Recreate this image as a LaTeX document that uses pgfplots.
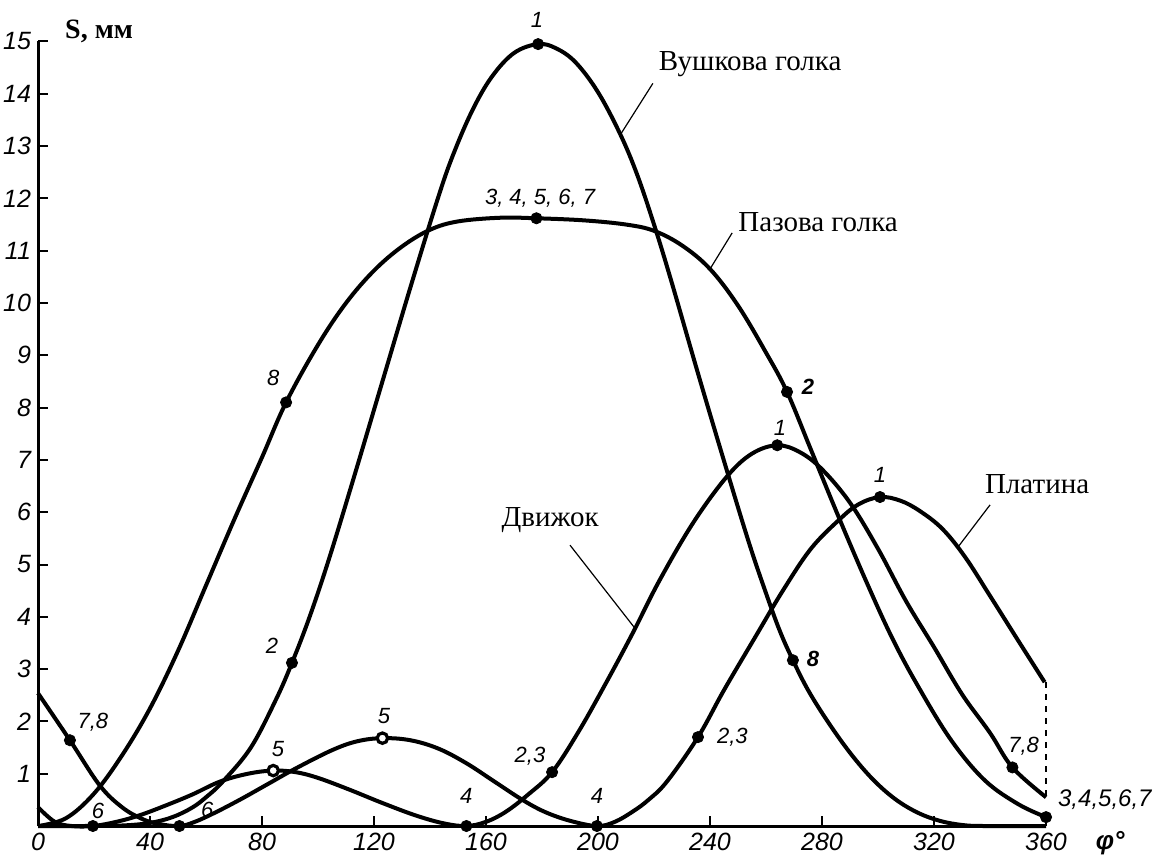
\documentclass[border=0pt]{standalone}
\usepackage{fontspec}
\setmainfont{Liberation Serif}
\newfontfamily\tf{Liberation Sans}
\usepackage{pgfplots}
\pgfplotsset{compat=1.18}
\newcommand\lf{\tf\itshape\fontsize{11}{11}\selectfont}
\newcommand\af{\fontsize{14.5}{15}\selectfont}
\begin{document}
\begin{tikzpicture}
\begin{axis}[
  scale only axis, width=504pt, height=392.25pt,
  xmin=0, xmax=360, ymin=0, ymax=15,
  axis lines=left, axis line style={-, line width=1.5pt},
  xtick={0,40,...,360}, ytick={1,...,15},
  tick align=inside, major tick length=5pt,
  tick style={line width=1pt, black},
  ticklabel style={font=\tf\itshape\fontsize{12.5}{13}\selectfont},
  /pgf/number format/assume math mode=true,
  clip=false,
]
% Вушкова голка
\addplot[black, line width=2pt, smooth, tension=0.6] coordinates {
(0,0) (15,0) (30,0.01) (40,0.06) (48,0.17) (55,0.35) (60,0.55) (66,0.85) (76,1.5) (85,2.42) (90.7,3.12) (97,4.0) (104,5.12) (113,6.7) (123,8.5) (133,10.3) (142.5,11.95) (148,12.8) (155,13.67) (162,14.32) (170,14.78) (178.6,14.95) (185,14.87) (192,14.6) (200,14.03) (208,13.22) (214,12.45) (220,11.5) (226,10.45) (236,8.6) (246,6.8) (254,5.4) (260,4.45) (265,3.72) (269.6,3.17) (275,2.6) (282,2.0) (290,1.4) (298,0.9) (306,0.52) (314,0.26) (322,0.1) (330,0.02) (338,0) (360,0)};
% Пазова голка
\addplot[black, line width=2pt, smooth, tension=0.6] coordinates {
(0,0) (10,0.15) (20,0.62) (30,1.35) (40,2.25) (50,3.35) (60,4.6) (70,5.85) (80,7.05) (88.6,8.1) (100,9.2) (110,10.0) (120,10.62) (130,11.08) (140,11.4) (150,11.56) (165,11.63) (178,11.62) (195,11.58) (210,11.5) (220,11.38) (230,11.1) (240,10.65) (250,9.95) (260,9.05) (267.5,8.3) (276,7.2) (286,5.9) (296,4.65) (305,3.6) (314,2.7) (326,1.65) (338,0.88) (350,0.42) (360,0.17)};
% Движок
\addplot[black, line width=2pt, smooth, tension=0.6] coordinates {
(0,0.36) (6,0.08) (12,0.0) (19.6,0.0) (28,0.08) (36,0.2) (45,0.38) (55,0.6) (65,0.85) (75,1.0) (84,1.06) (92,1.03) (100,0.92) (111,0.7) (123,0.44) (135,0.2) (145,0.05) (153,0) (160,0.08) (167,0.27) (175,0.6) (183.6,1.03) (193,1.8) (203,2.75) (212.5,3.7) (222,4.7) (234,5.8) (246,6.68) (255,7.12) (264,7.28) (272,7.15) (280,6.82) (290,6.18) (300,5.3) (310,4.3) (320,3.42) (330,2.52) (340,1.78) (348,1.12) (360,0.55)};
% Платина
\addplot[black, line width=2pt, smooth, tension=0.6] coordinates {
(0,2.54) (11.4,1.64) (22,0.78) (30,0.36) (37,0.14) (43,0.04) (50.5,0) (56,0.08) (63,0.25) (72,0.5) (82,0.8) (92,1.1) (105,1.45) (114,1.62) (123,1.68) (133,1.64) (143,1.48) (153,1.2) (163,0.85) (173,0.5) (181,0.27) (190,0.1) (199.6,0) (206,0.08) (212.5,0.28) (218,0.5) (224.6,0.85) (235.7,1.7) (245,2.6) (256,3.6) (266,4.5) (276,5.3) (286,5.85) (293,6.15) (300.7,6.29) (308,6.22) (315,6.02) (323,5.68) (331,5.15) (340,4.4) (350,3.55) (359.5,2.75)};
% dashed
\addplot[black, line width=1.2pt, dashed] coordinates {(360,2.75) (360,0.55)};
% markers
\addplot[only marks, mark=*, mark size=2.8pt, mark options={fill=black, draw=black}] coordinates {
(178.6,14.95) (90.7,3.12) (269.6,3.17)
(88.6,8.1) (178,11.62) (267.5,8.3) (360,0.17)
(264,7.28) (183.6,1.03) (153,0) (19.6,0) (348,1.12)
(300.7,6.29) (235.7,1.7) (199.6,0) (50.5,0) (11.4,1.64)};
\addplot[only marks, mark=*, mark size=2.6pt, mark options={fill=white, draw=black, line width=1.6pt}] coordinates {(84,1.06) (123,1.68)};
% leader lines
\addplot[black, line width=0.6pt] coordinates {(219.6,14.2) (208,13.22)};
\addplot[black, line width=0.6pt] coordinates {(247.9,11.34) (240,10.65)};
\addplot[black, line width=0.6pt] coordinates {(190,5.37) (213.2,3.78)};
\addplot[black, line width=0.6pt] coordinates {(340,6.14) (328.5,5.33)};
% annotations
\node[font=\af] at (axis cs:254.3,14.57) {Вушкова голка};
\node[font=\af] at (axis cs:278.6,11.55) {Пазова голка};
\node[font=\af] at (axis cs:182.9,5.85) {Движок};
\node[font=\af] at (axis cs:356.8,6.54) {Платина};
\node[font=\bfseries\fontsize{14}{14}\selectfont] at (axis cs:21.8,15.2) {S, мм};
\node[font=\tf\itshape\bfseries\fontsize{13}{13}\selectfont] at (axis cs:382.9,-0.33) {φ°};
% point labels
\node[font=\lf] at (axis cs:178.2,15.41) {1};
\node[font=\lf] at (axis cs:179.3,12.0) {3, 4, 5, 6, 7};
\node[font=\lf] at (axis cs:84,8.57) {8};
\node[font=\lf] at (axis cs:83.6,3.44) {2};
\node[font=\lf\bfseries] at (axis cs:275,8.39) {2};
\node[font=\lf] at (axis cs:265,7.61) {1};
\node[font=\lf] at (axis cs:300.7,6.71) {1};
\node[font=\lf\bfseries] at (axis cs:276.8,3.19) {8};
\node[font=\lf] at (axis cs:175.7,1.34) {2,3};
\node[font=\lf] at (axis cs:248,1.7) {2,3};
\node[font=\lf] at (axis cs:152.9,0.57) {4};
\node[font=\lf] at (axis cs:199.6,0.57) {4};
\node[font=\lf] at (axis cs:85.7,1.47) {5};
\node[font=\lf] at (axis cs:123.6,2.1) {5};
\node[font=\lf] at (axis cs:21.4,0.29) {6};
\node[font=\lf] at (axis cs:60.4,0.31) {6};
\node[font=\lf] at (axis cs:19.6,1.99) {7,8};
\node[font=\lf] at (axis cs:352,1.53) {7,8};
\node[font=\tf\itshape\fontsize{12}{12}\selectfont] at (axis cs:381,0.5) {3,4,5,6,7};
\coordinate (bbsw) at (rel axis cs:-0.0377,-0.0484);
\coordinate (bbne) at (rel axis cs:1.121,1.0529);
\end{axis}
\pgfresetboundingbox
\path (bbsw) rectangle (bbne);
\end{tikzpicture}
\end{document}
